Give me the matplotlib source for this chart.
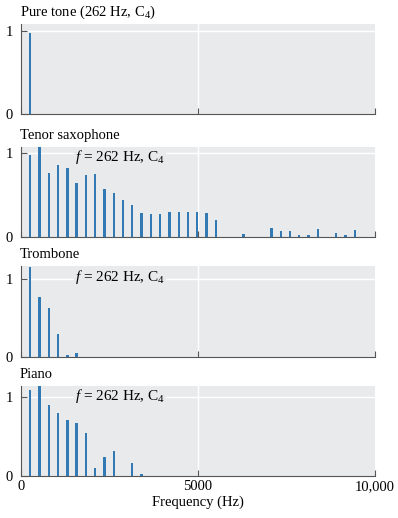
import matplotlib
matplotlib.use("Agg")
import matplotlib.pyplot as plt

plt.rcParams["font.family"] = ["Liberation Serif", "DejaVu Serif"]
plt.rcParams["mathtext.fontset"] = "custom"
plt.rcParams["mathtext.rm"] = "Liberation Serif"
plt.rcParams["mathtext.it"] = "Liberation Serif:italic"

F0 = 262  # Hz, C4

# harmonic numbers and relative amplitudes
pure_harm = [1]
pure_amp = [0.97]

sax_harm = list(range(1, 22)) + [24, 27, 28, 29, 30, 31, 32, 34, 35, 36]
sax_amp = [0.98, 1.08, 0.76, 0.86, 0.82, 0.64, 0.74, 0.75, 0.57, 0.52,
           0.44, 0.38, 0.29, 0.27, 0.27, 0.30, 0.30, 0.30, 0.30, 0.29,
           0.20, 0.04, 0.11, 0.075, 0.075, 0.024, 0.024, 0.10, 0.05,
           0.028, 0.08]

trombone_harm = [1, 2, 3, 4, 5, 6]
trombone_amp = [1.15, 0.77, 0.63, 0.29, 0.02, 0.055]

piano_harm = [1, 2, 3, 4, 5, 6, 7, 8, 9, 10, 12, 13]
piano_amp = [1.08, 1.13, 0.90, 0.80, 0.71, 0.67, 0.54, 0.10, 0.24, 0.32,
             0.16, 0.025]

titles = ["Pure tone (262 Hz, C$_4$)", "Tenor saxophone", "Trombone", "Piano"]
harms = [pure_harm, sax_harm, trombone_harm, piano_harm]
amps = [pure_amp, sax_amp, trombone_amp, piano_amp]
ytops = [1.08, 1.07, 1.16, 1.135]

x_ticks = [0, 5000, 10000]
x_ticklabels = ["0", "5000", "10,000"]

BG = "#e9eaec"
BAR = "#3379b4"
SPINE = "#555555"

fig = plt.figure(figsize=(3.98, 5.18), dpi=100)

# axes boxes in pixels: (top, bottom)
boxes = [(24, 114), (147, 237), (266, 357), (386, 476)]
W, H = 398, 518
left, right = 21, 375

for i, (top, bot) in enumerate(boxes):
    ax = fig.add_axes([left / W, 1 - bot / H, (right - left) / W, (bot - top) / H])
    ax.set_facecolor(BG)
    freqs = [h * F0 for h in harms[i]]
    ax.bar(freqs, amps[i], width=65, color=BAR, zorder=3)
    ax.axhline(1, color="white", lw=1.0, zorder=1)
    ax.axvline(5000, color="white", lw=1.0, zorder=1)

    ax.set_xlim(0, 10000)
    ax.set_ylim(0, ytops[i])
    ax.set_yticks([0, 1])
    ax.set_yticklabels(["0", "1"])
    ax.set_xticks(x_ticks)
    if i == 3:
        ax.set_xticklabels(x_ticklabels)
        ax.set_xlabel("Frequency (Hz)", fontsize=10.5, labelpad=2)
    else:
        ax.set_xticklabels([])

    ax.tick_params(direction="in", length=4, width=0.8, color=SPINE,
                   labelsize=10.5, pad=3)
    ax.tick_params(axis="y", pad=6)
    for s in ["top", "right"]:
        ax.spines[s].set_visible(False)
    for s in ["left", "bottom"]:
        ax.spines[s].set_color(SPINE)
        ax.spines[s].set_linewidth(0.8)

    ax.annotate(titles[i], xy=(0, 1), xycoords="axes fraction",
                xytext=(-1, 6), textcoords="offset points",
                ha="left", va="baseline", fontsize=10.5)

    if i > 0:
        ax.text(0.152, 0.84, "$f$ = 262 Hz, C$_4$", transform=ax.transAxes,
                ha="left", va="baseline", fontsize=11, zorder=4,
                bbox=dict(facecolor=BG, edgecolor="none", pad=0.5))

fig.savefig("out.png", dpi=100)
